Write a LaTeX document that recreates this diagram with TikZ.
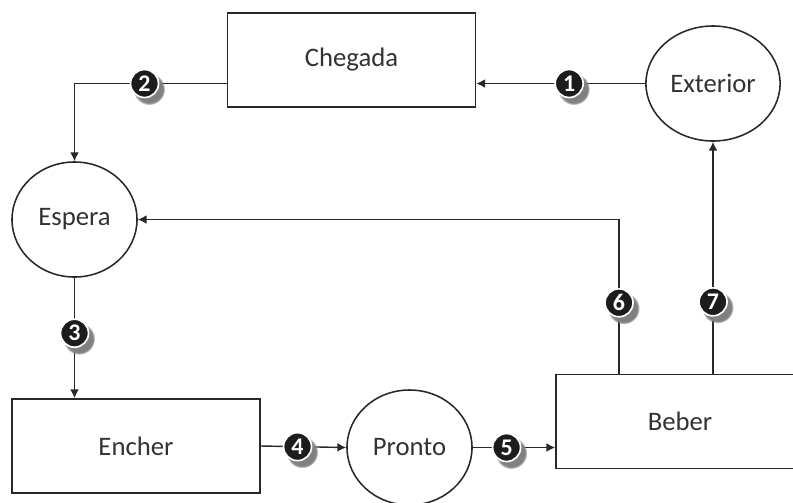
\documentclass[tikz,border=0pt]{standalone}
\usepackage{fontspec}
\setmainfont{Carlito}
\usetikzlibrary{shapes.geometric,arrows.meta,shadows}
\definecolor{lnGray}{RGB}{40,40,40}
\definecolor{txtGray}{RGB}{50,50,50}
\definecolor{badgeBlack}{RGB}{28,28,28}

\tikzset{
  state/.style={ellipse, draw=lnGray, line width=1.1pt, minimum width=3.125cm, minimum height=2.875cm,
    text=txtGray, font=\fontsize{19}{21}\selectfont},
  activity/.style={rectangle, draw=lnGray, line width=1.1pt, minimum width=6.2cm, minimum height=2.35cm,
    text=txtGray, font=\fontsize{19}{21}\selectfont},
  flow/.style={draw=lnGray, line width=1pt, -{Latex[length=2.2mm,width=2.2mm]}},
  badge/.style={circle, fill=badgeBlack, draw=white, line width=1.2pt, minimum size=0.7cm, inner sep=0pt,
    text=white, font=\bfseries\fontsize{17}{17}\selectfont,
    circular drop shadow={shadow xshift=0.1cm, shadow yshift=-0.12cm, shadow scale=1.15}}
}

\begin{document}
\begin{tikzpicture}[x=0.025cm, y=-0.025cm]
\useasboundingbox (0,0) rectangle (793,502);

% Activities and queues
\node[activity] (chegada) at (351.5,60) {Chegada};
\node[state] (exterior) at (713,83.5) {Exterior};
\node[state] (espera) at (74.5,219.5) {Espera};
\node[activity] (encher) at (136,446) {Encher};
\node[state] (pronto) at (409.5,447.5) {Pronto};
\node[activity] (beber) at (680,421.5) {Beber};

% Flows between them
\draw[flow] (exterior.west) -- (chegada.east |- exterior.west) node[badge, pos=0.45] {1};
\draw[flow] (chegada.west |- exterior.west) -| (espera.north) node[badge, pos=0.27] {2};
\draw[flow] (espera.south) -- (espera.south |- encher.north) node[badge, pos=0.46] {3};
\draw[flow] (encher.east) -- (pronto.west) node[badge, pos=0.43] {4};
\draw[flow] (pronto.east) -- (beber.west |- pronto.east) node[badge, pos=0.41] {5};
\draw[flow] (beber.north -| 619,0) |- (espera.east) node[badge, pos=0.23] {6};
\draw[flow] (beber.north -| exterior.south) -- (exterior.south) node[badge, pos=0.31] {7};
\end{tikzpicture}
\end{document}
